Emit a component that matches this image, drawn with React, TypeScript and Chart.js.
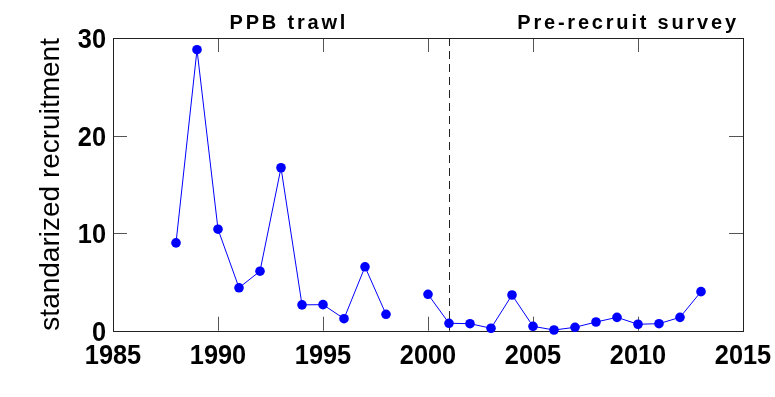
import React, { useEffect, useRef } from "react";
import { Chart, registerables } from "chart.js";

Chart.register(...registerables);

const years = [1988, 1989, 1990, 1991, 1992, 1993, 1994, 1995, 1996, 1997, 1998, 1999, 2000, 2001, 2002, 2003, 2004, 2005, 2006, 2007, 2008, 2009, 2010, 2011, 2012, 2013];
const recruitment: (number | null)[] = [9.0, 28.8, 10.4, 4.4, 6.1, 16.7, 2.65, 2.67, 1.23, 6.55, 1.68, null, 3.73, 0.76, 0.72, 0.25, 3.66, 0.45, 0.07, 0.35, 0.89, 1.37, 0.66, 0.72, 1.37, 4.0];
const xTicks = [1985, 1990, 1995, 2000, 2005, 2010, 2015];
const yTicks = [0, 10, 20, 30];
const splitYear = 2001;
const sectionTitles = ["PPB trawl", "Pre-recruit survey"];
const sectionTitleStart = [1990.55, 2004.25];

const FONT = "'Liberation Sans', Arial, Helvetica, sans-serif";

const matlabAxes = {
  id: "matlabAxes",
  beforeDatasetsDraw(chart: any) {
    const { ctx, chartArea } = chart;
    const { left, right, top, bottom } = chartArea;
    const xs = chart.scales.x;
    const ys = chart.scales.y;
    const tl = 14;
    ctx.save();
    // ticks
    ctx.strokeStyle = "#555";
    ctx.lineWidth = 1;
    ctx.beginPath();
    xTicks.forEach((t) => {
      if (t === xTicks[0] || t === xTicks[xTicks.length - 1]) return;
      const px = Math.round(xs.getPixelForValue(t)) + 0.5;
      ctx.moveTo(px, bottom);
      ctx.lineTo(px, bottom - tl);
      ctx.moveTo(px, top);
      ctx.lineTo(px, top + tl);
    });
    yTicks.forEach((t) => {
      if (t === yTicks[0] || t === yTicks[yTicks.length - 1]) return;
      const py = Math.round(ys.getPixelForValue(t)) + 0.5;
      ctx.moveTo(left, py);
      ctx.lineTo(left + tl, py);
      ctx.moveTo(right, py);
      ctx.lineTo(right - tl, py);
    });
    ctx.stroke();
    // dashed split line
    const sx = Math.round(xs.getPixelForValue(splitYear)) + 0.5;
    ctx.strokeStyle = "#222";
    ctx.setLineDash([8, 5]);
    ctx.beginPath();
    ctx.moveTo(sx, top);
    ctx.lineTo(sx, bottom);
    ctx.stroke();
    ctx.setLineDash([]);
    // box
    ctx.strokeStyle = "#222";
    ctx.lineWidth = 1;
    ctx.strokeRect(Math.round(left) + 0.5, Math.round(top) + 0.5, Math.round(right - left), Math.round(bottom - top));

    // tick labels (slightly condensed, like the reference)
    ctx.fillStyle = "#000";
    ctx.font = `bold 28.5px ${FONT}`;
    const sxScale = 0.89;
    ctx.textBaseline = "alphabetic";
    ctx.textAlign = "center";
    xTicks.forEach((t) => {
      const px = xs.getPixelForValue(t);
      ctx.save();
      ctx.translate(px, bottom + 33.5);
      ctx.scale(sxScale, 1);
      ctx.fillText(String(t), 0, 0);
      ctx.restore();
    });
    ctx.textAlign = "right";
    yTicks.forEach((t) => {
      const py = ys.getPixelForValue(t);
      ctx.save();
      ctx.translate(left - 7, py + 10);
      ctx.scale(sxScale, 1);
      ctx.fillText(String(t), 0, 0);
      ctx.restore();
    });

    // section titles
    ctx.font = `bold 20px ${FONT}`;
    (ctx as any).letterSpacing = "2.8px";
    ctx.textAlign = "left";
    ctx.textBaseline = "alphabetic";
    sectionTitles.forEach((s, i) => {
      ctx.fillText(s, xs.getPixelForValue(sectionTitleStart[i]), 29);
    });
    ctx.restore();
  },
};

export default function App() {
  const ref = useRef<HTMLCanvasElement | null>(null);
  useEffect(() => {
    if (!ref.current) return;
    const chart = new Chart(ref.current, {
      type: "scatter",
      data: {
        datasets: [
          {
            data: years.map((y, i) => ({ x: y, y: recruitment[i] as any })),
            showLine: true,
            spanGaps: false,
            borderColor: "#0000ff",
            borderWidth: 1,
            backgroundColor: "#0000ff",
            pointBackgroundColor: "#0000ff",
            pointBorderColor: "#0000ff",
            pointBorderWidth: 0,
            pointRadius: 4.8,
            clip: false as any,
          },
        ],
      },
      options: {
        animation: false,
        responsive: false,
        maintainAspectRatio: false,
        layout: { padding: { left: 0, top: 38, right: 32, bottom: 0 } },
        plugins: { legend: { display: false }, tooltip: { enabled: false }, title: { display: false } },
        scales: {
          x: {
            type: "linear",
            min: 1985,
            max: 2015,
            afterBuildTicks: (s: any) => {
              s.ticks = xTicks.map((v) => ({ value: v }));
            },
            ticks: { display: false },
            grid: { display: false, drawTicks: false },
            border: { display: false },
            afterFit: (s: any) => {
              s.height = 66.3;
            },
          },
          y: {
            min: 0,
            max: 30,
            afterBuildTicks: (s: any) => {
              s.ticks = yTicks.map((v) => ({ value: v }));
            },
            ticks: { display: false },
            grid: { display: false, drawTicks: false },
            border: { display: false },
            title: { display: true, text: "standarized recruitment", color: "#000", font: { family: FONT, size: 28, weight: "normal" }, padding: { top: 34, bottom: 0 } },
            afterFit: (s: any) => {
              s.width = 113;
            },
          },
        },
      },
      plugins: [matlabAxes],
    });
    return () => chart.destroy();
  }, []);
  return (
    <div style={{ position: "fixed", left: 0, top: 0, width: 775, height: 397, background: "#fff" }}>
      <canvas ref={ref} width={775} height={397} style={{ display: "block", width: 775, height: 397 }} />
    </div>
  );
}
